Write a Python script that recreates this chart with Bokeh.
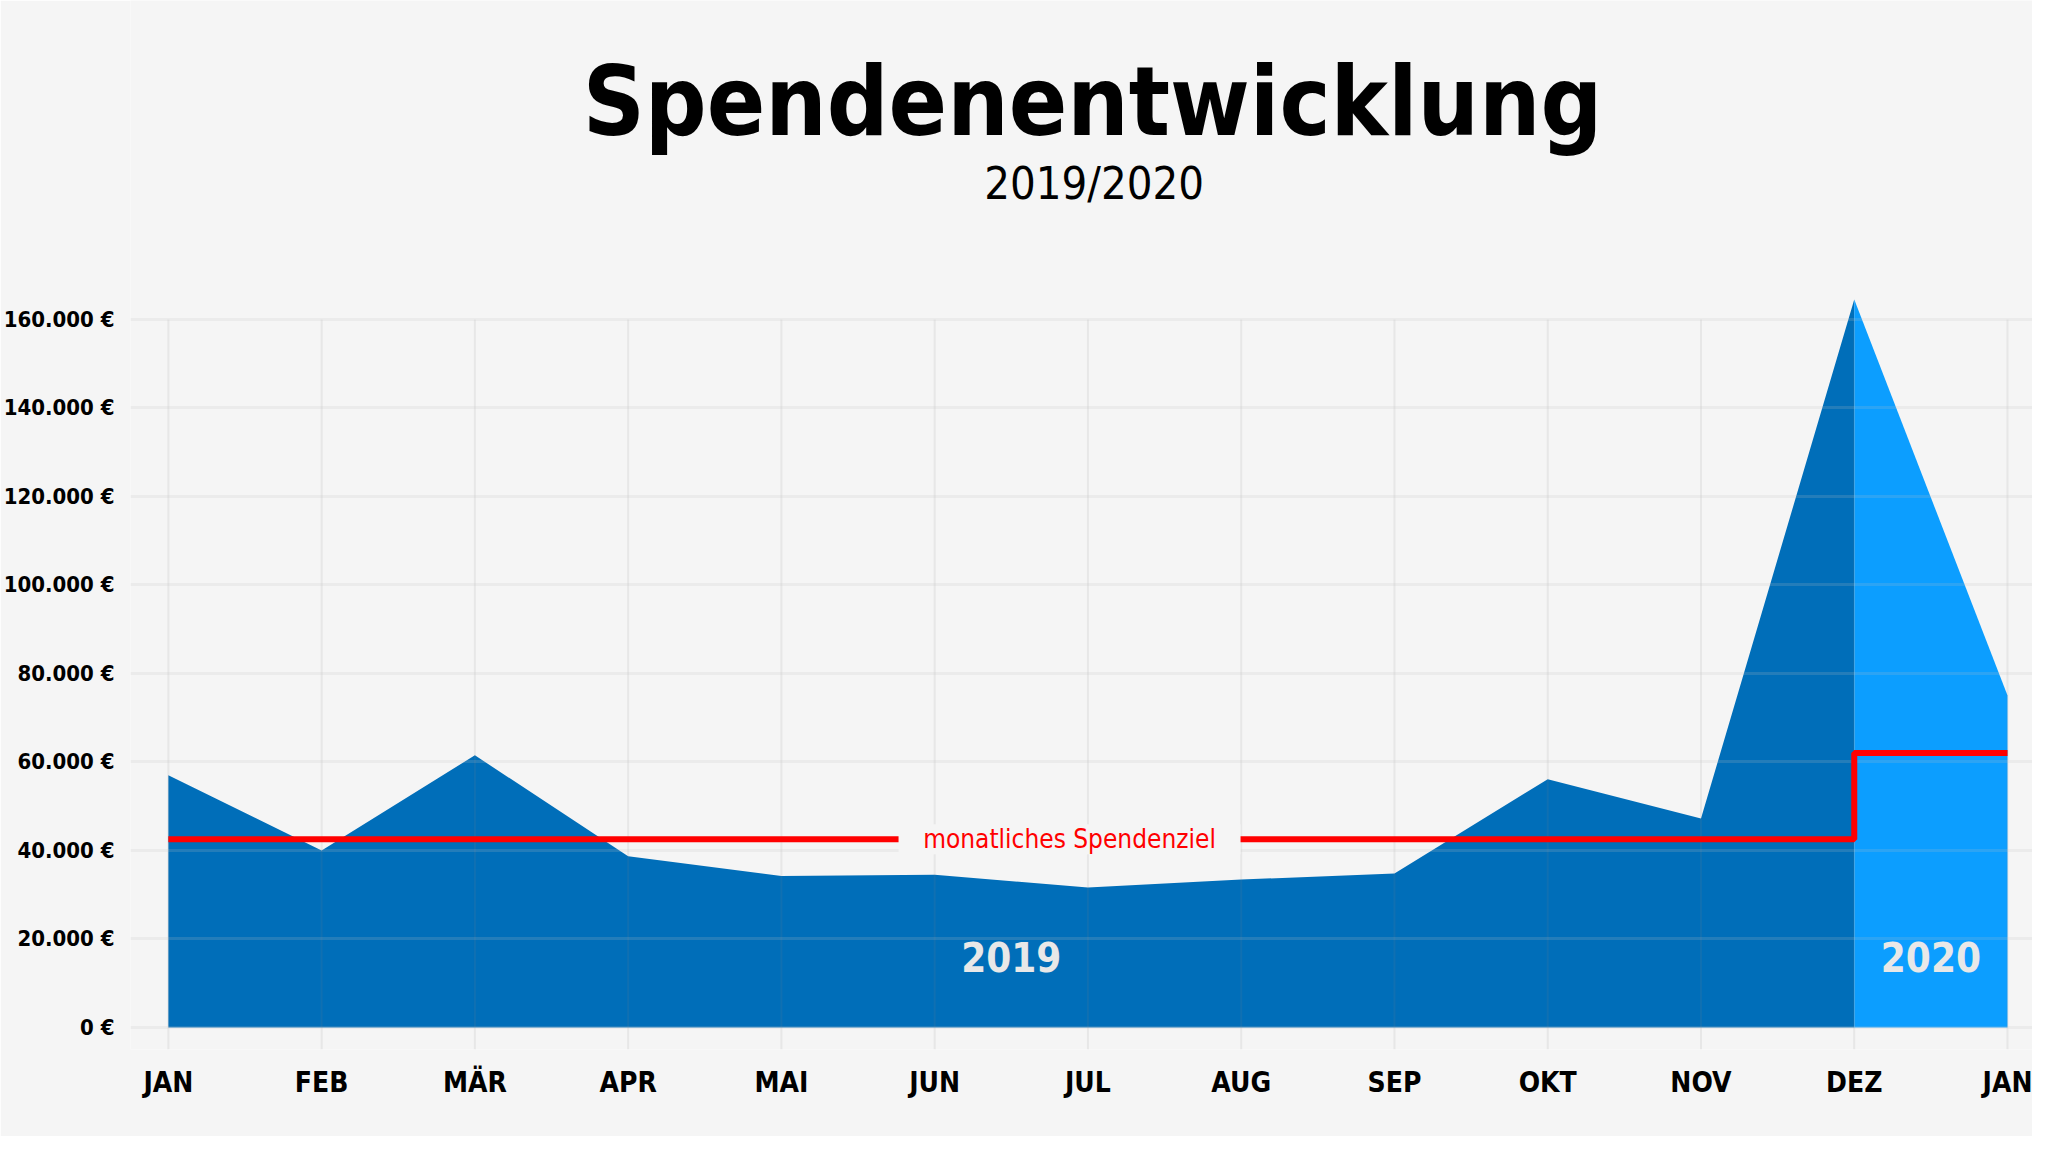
from bokeh.plotting import figure
from bokeh.models import FixedTicker, Range1d, ColumnDataSource
from bokeh.core.properties import value
from bokeh.embed import file_html
from bokeh.resources import INLINE

# ---------------- data ----------------
months = ["JAN", "FEB", "MÄR", "APR", "MAI", "JUN", "JUL", "AUG", "SEP", "OKT", "NOV", "DEZ", "JAN"]
donations_2019 = [57000, 40000, 61500, 38700, 34200, 34500, 31600, 33400, 34800, 56100, 47200, 164500]
donations_2020 = [164500, 75000]          # DEZ 2019 -> JAN 2020
monthly_goal = [42500, 42500, 42500, 42500, 42500, 42500, 42500, 42500, 42500, 42500, 42500, 42500, 62000]
y_ticks = [0, 20000, 40000, 60000, 80000, 100000, 120000, 140000, 160000]
year_labels = ["2019", "2020"]
goal_label = "monatliches Spendenziel"
title_text = "Spendenentwicklung"
subtitle_text = "2019/2020"

# ---------------- styling ----------------
BG = "#F5F5F5"
DARK = "#006EB9"
LIGHT = "#0C9EFF"
RED = "#FF0000"
FONT = "DejaVu Sans Condensed"

x_all = list(range(len(months)))
x_2019 = x_all[:len(donations_2019)]
x_2020 = x_all[len(donations_2019) - 1:]

p = figure(width=2032, height=1136,
           x_range=Range1d(-0.247, 12.163), y_range=Range1d(-5000, 232100),
           output_backend="svg", toolbar_location=None,
           min_border_left=124, min_border_right=0,
           min_border_top=0, min_border_bottom=87)
p.background_fill_color = BG
p.border_fill_color = BG
p.outline_line_color = None

# areas
p.varea(x=x_2019, y1=0, y2=donations_2019, fill_color=DARK, level="underlay")
p.varea(x=x_2020, y1=0, y2=donations_2020, fill_color=LIGHT, level="underlay")

# grid
p.xgrid.visible = False
p.ygrid.ticker = FixedTicker(ticks=y_ticks)
p.ygrid.grid_line_color = "#C0C0C0"
p.ygrid.grid_line_alpha = 0.18
p.ygrid.grid_line_width = 3
p.ygrid.level = "glyph"
p.segment(x0=x_all, x1=x_all, y0=[-5000] * len(x_all), y1=[y_ticks[-1]] * len(x_all),
          line_color="#808080", line_alpha=0.12, line_width=2)

# goal line
p.step(x=x_all, y=monthly_goal, mode="before", line_color=RED, line_width=6, level="annotation")

goal_x = (x_all[0] + x_all[len(donations_2019) - 1]) / 2 + 0.38
p.rect(x=[goal_x], y=[monthly_goal[0]], width=[342], height=[30],
       width_units="screen", height_units="screen",
       fill_color=BG, line_color=None, level="overlay")
p.text(x=[goal_x], y=[monthly_goal[0]], text=[goal_label], text_align="center",
       text_baseline="middle", text_color=RED, text_font=value(FONT),
       text_font_size="26px", level="overlay")

# year labels
src = ColumnDataSource(dict(
    x=[(x_2019[0] + x_2019[-1]) / 2, (x_2020[0] + x_2020[-1]) / 2],
    y=[15800, 15800],
    t=year_labels))
p.text(x="x", y="y", text="t", source=src, text_align="center", text_baseline="middle",
       text_color="#E8E8E8", text_font=value(FONT), text_font_style="bold",
       text_font_size="40px", level="overlay")

# title & subtitle (placed above the data area, inside the extended frame)
p.text(x=[6.03], y=[209100], text=[title_text], text_align="center", text_baseline="alphabetic",
       text_color="#000000", text_font=value(FONT), text_font_style="bold",
       text_font_size="96px", level="overlay")
p.text(x=[6.04], y=[190800], text=[subtitle_text], text_align="center", text_baseline="alphabetic",
       text_color="#000000", text_font=value(FONT), text_font_size="45px", level="overlay")

# axes
p.xaxis.ticker = FixedTicker(ticks=x_all)
p.xaxis.major_label_overrides = {i: m for i, m in enumerate(months)}
p.xaxis.axis_line_color = None
p.xaxis.major_tick_line_color = None
p.xaxis.minor_tick_line_color = None
p.xaxis.major_label_text_font = FONT
p.xaxis.major_label_text_font_style = "bold"
p.xaxis.major_label_text_font_size = "28px"
p.xaxis.major_label_text_color = "#000000"
p.xaxis.major_label_standoff = 10

p.yaxis.ticker = FixedTicker(ticks=y_ticks)
p.yaxis.major_label_overrides = {v: f"{v:,}".replace(",", ".") + "\u00a0€" for v in y_ticks}
p.yaxis.axis_line_color = None
p.yaxis.major_tick_line_color = None
p.yaxis.minor_tick_line_color = None
p.yaxis.major_label_text_font = FONT
p.yaxis.major_label_text_font_style = "bold"
p.yaxis.major_label_text_font_size = "22px"
p.yaxis.major_label_text_color = "#000000"
p.yaxis.major_label_standoff = 10

open("out.html", "w").write(file_html(p, INLINE))
